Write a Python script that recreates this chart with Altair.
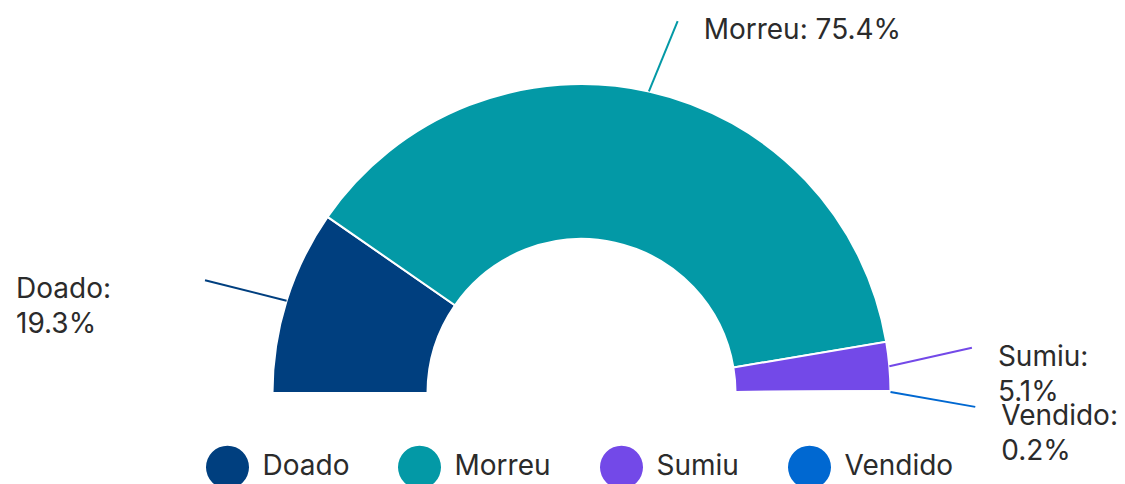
import math
import altair as alt
import pandas as pd

# ---- data ----
categories = ["Doado", "Morreu", "Sumiu", "Vendido"]
percent = [19.3, 75.4, 5.1, 0.2]
colors = ["#003F7F", "#0399A6", "#7349E8", "#0068D1"]

# ---- layout ----
W, H = 1109, 476
CX, CY = 573.5, 385.0          # centre of the half donut (chart px)
R_OUT, R_IN = 309, 154
LINE_R = [393, 384, 393, 394]       # leader line end radius
LINE_DA = [-0.7, 1.9, -1.65, 2.2]   # leader line end angle shift (deg)
WRAP = [True, False, True, True]
GAP = 26
LEFT_BOX = 163
FONT = "Inter"
FS = 28

total = sum(percent)
arc_df = pd.DataFrame({"category": categories, "percent": percent,
                       "idx": list(range(len(categories)))})

rows = []
cum = 0.0
for i, (cat, v) in enumerate(zip(categories, percent)):
    mid = -90 + 180 * (cum + v / 2) / total
    cum += v
    a0 = math.radians(mid)
    a1 = math.radians(mid + LINE_DA[i])
    x1, y1 = R_OUT * math.sin(a0), -R_OUT * math.cos(a0)
    x2, y2 = LINE_R[i] * math.sin(a1), -LINE_R[i] * math.cos(a1)
    txt = f"{cat}:\n{v:.1f}%" if WRAP[i] else f"{cat}: {v:.1f}%"
    tx = x2 + GAP if x2 >= 0 else x2 - GAP - LEFT_BOX
    rows.append(dict(category=cat, x1=x1, y1=y1, x2=x2, y2=y2,
                     tx=tx, ty=y2 - 4, label=txt, lc=colors[i]))
lab_df = pd.DataFrame(rows)

xs = alt.Scale(domain=[-CX, W - CX], range=[0, W], nice=False, zero=False)
ys = alt.Scale(domain=[-CY, H - CY], range=[0, H], nice=False, zero=False)

arcs = alt.Chart(arc_df).mark_arc(radius=R_OUT, radius2=R_IN, stroke="white",
                                  strokeWidth=2).encode(
    theta=alt.Theta("percent:Q", stack=True,
                    scale=alt.Scale(range=[-math.pi / 2, math.pi / 2])),
    color=alt.Color("category:N",
                    scale=alt.Scale(domain=categories, range=colors),
                    legend=alt.Legend(title=None, orient="none", direction="horizontal",
                                      legendX=197.5, legendY=437,
                                      symbolType="circle", symbolSize=1850,
                                      symbolStrokeWidth=0,
                                      labelFont=FONT, labelFontSize=FS,
                                      labelColor="#2b2b2b", labelOffset=13,
                                      columnPadding=48, padding=0)),
    order=alt.Order("idx:Q"),
    x=alt.value(CX), y=alt.value(CY),
)

lines = alt.Chart(lab_df).mark_rule(strokeWidth=2).encode(
    x=alt.X("x1:Q", scale=xs, axis=None),
    y=alt.Y("y1:Q", scale=ys, axis=None),
    x2="x2:Q", y2="y2:Q",
    color=alt.Color("lc:N", scale=None),
)

texts = alt.Chart(lab_df).mark_text(align="left", baseline="top", lineBreak="\n",
                                    lineHeight=35, font=FONT, fontSize=FS,
                                    color="#2b2b2b").encode(
    x=alt.X("tx:Q", scale=xs, axis=None),
    y=alt.Y("ty:Q", scale=ys, axis=None),
    text="label:N",
)

chart = alt.layer(arcs, lines, texts).properties(
    width=W, height=H, padding=0, autosize=alt.AutoSizeParams(type="none")
).configure_view(stroke=None)

chart.save("out.html", embed_options={"renderer": "svg", "actions": False})
